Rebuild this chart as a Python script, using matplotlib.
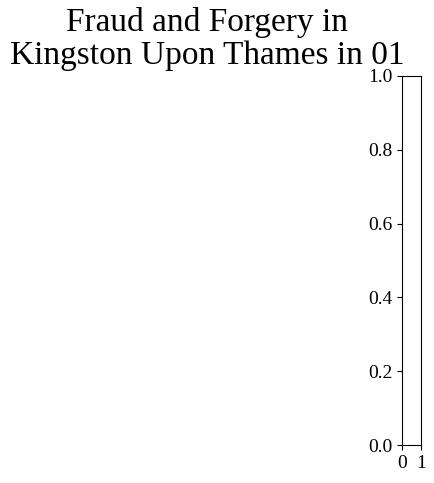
import matplotlib
matplotlib.use("Agg")
import matplotlib.pyplot as plt

plt.rcParams['font.family'] = ['Liberation Serif', 'DejaVu Serif']

crime = "Fraud and Forgery"
borough = "Kingston Upon Thames"
period = "01"
yticks = [0.0, 0.2, 0.4, 0.6, 0.8, 1.0]
xticks = [0, 1]

fig = plt.figure(figsize=(4.35, 4.83), dpi=100)

# empty map axes (hidden)
ax_map = fig.add_axes([0.0, 0.08, 0.9, 0.76])
ax_map.set_axis_off()

fig.text(207/435, 1 - 39/483, f"{crime} in\n{borough} in {period}",
         ha='center', va='center', fontsize=24, linespacing=1.08)

cax = fig.add_axes([402/435, 38/483, 19/435, 369/483])
cax.set_xlim(0, 1)
cax.set_ylim(0, 1)
cax.set_xticks(xticks)
cax.set_yticks(yticks)
cax.set_xticklabels([str(v) for v in xticks])
cax.set_yticklabels([f"{v:.1f}" for v in yticks])
cax.tick_params(labelsize=14)

fig.savefig("out.png", dpi=100)
